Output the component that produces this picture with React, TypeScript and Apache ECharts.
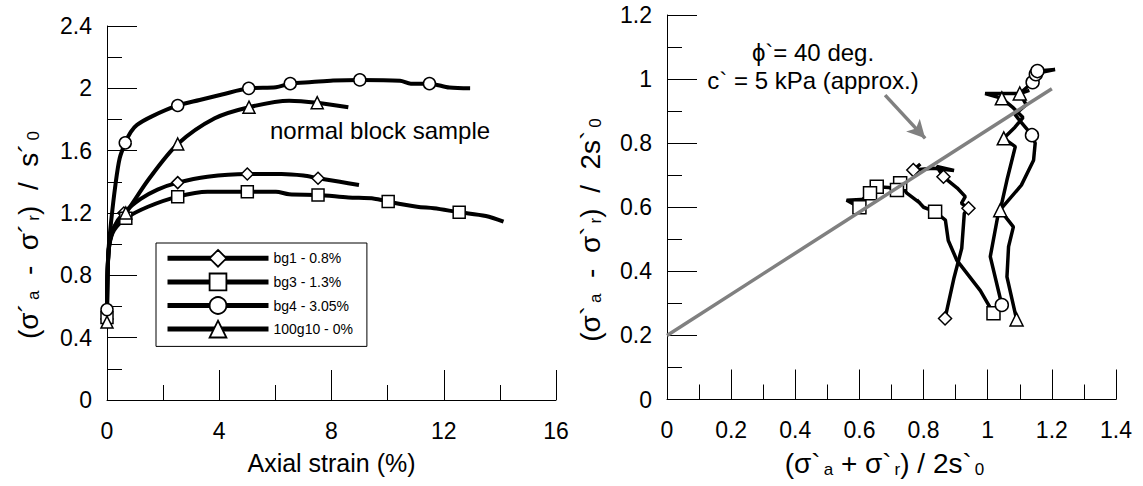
import { useEffect, useRef } from 'react';
import * as echarts from 'echarts';

const FONT = '"Liberation Sans", Arial, Helvetica, sans-serif';

// ---- Left chart: stress ratio vs axial strain ----
const bg1Strain = [0, 0.02, 0.08, 0.25, 0.6, 1.2, 1.8, 2.52, 3.58, 5.0, 6.22, 7.0, 7.52, 8.3, 8.98];
const bg1Ratio = [0.52, 0.82, 1.0, 1.11, 1.2, 1.29, 1.35, 1.395, 1.433, 1.45, 1.45, 1.44, 1.423, 1.4, 1.38];
const bg1Marks = [0, 4, 7, 9, 12];

const bg3Strain = [0, 0.02, 0.08, 0.25, 0.67, 1.46, 2.52, 3.58, 5.0, 6.02, 6.49, 7.52, 8.6, 9.53, 10.02, 11.05, 11.65, 12.55, 13.5, 14.13];
const bg3Ratio = [0.53, 0.82, 0.99, 1.09, 1.166, 1.24, 1.305, 1.337, 1.337, 1.337, 1.32, 1.316, 1.3, 1.292, 1.273, 1.24, 1.23, 1.205, 1.181, 1.145];
const bg3Marks = [0, 4, 6, 8, 11, 14, 17];

const bg4Strain = [0, 0.05, 0.15, 0.3, 0.45, 0.65, 0.85, 1.07, 1.6, 2.52, 3.3, 4.1, 5.05, 6.02, 6.53, 7.3, 8.06, 9.01, 10.44, 10.83, 11.49, 12.2, 12.94];
const bg4Ratio = [0.58, 0.95, 1.15, 1.38, 1.55, 1.65, 1.72, 1.765, 1.82, 1.89, 1.925, 1.96, 2.0, 2.007, 2.03, 2.04, 2.05, 2.054, 2.048, 2.03, 2.03, 2.005, 2.0];
const bg4Marks = [0, 5, 9, 12, 14, 17, 20];

const g10Strain = [0, 0.02, 0.1, 0.3, 0.67, 1.5, 2.52, 3.84, 5.06, 6.49, 7.49, 8.6];
const g10Ratio = [0.5, 0.82, 1.02, 1.12, 1.2, 1.42, 1.643, 1.808, 1.879, 1.921, 1.908, 1.879];
const g10Marks = [0, 4, 6, 8, 10];

// ---- Right chart: stress paths ----
const bg1P = [0.867, 0.895, 0.919, 0.927, 0.94, 0.918, 0.93, 0.905, 0.862, 0.841, 0.895, 0.83, 0.768, 0.79];
const bg1Q = [0.253, 0.38, 0.472, 0.581, 0.597, 0.612, 0.633, 0.66, 0.695, 0.727, 0.715, 0.722, 0.716, 0.735];
const bg1PMarks = [0, 4, 8, 12];

const bg3P = [1.018, 0.977, 0.904, 0.877, 0.868, 0.836, 0.8, 0.779, 0.79, 0.748, 0.727, 0.717, 0.69, 0.654, 0.633, 0.61, 0.6, 0.56, 0.62];
const bg3Q = [0.269, 0.34, 0.434, 0.496, 0.56, 0.586, 0.6, 0.623, 0.612, 0.644, 0.675, 0.654, 0.662, 0.664, 0.644, 0.625, 0.6, 0.622, 0.625];
const bg3PMarks = [0, 5, 10, 11, 13, 14, 16];

const bg4P = [1.044, 1.008, 1.034, 1.105, 1.143, 1.148, 1.138, 1.1, 1.085, 1.12, 1.1, 1.14, 1.15, 1.155, 1.21, 1.16];
const bg4Q = [0.295, 0.446, 0.586, 0.669, 0.747, 0.8, 0.825, 0.87, 0.89, 0.92, 0.955, 0.99, 1.015, 1.025, 1.03, 1.02];
const bg4PMarks = [0, 6, 11, 12, 13];

const g10P = [1.09, 1.06, 1.065, 1.08, 1.039, 1.06, 1.086, 1.05, 1.085, 1.11, 1.08, 1.044, 0.992, 1.06, 1.1, 1.13];
const g10Q = [0.25, 0.383, 0.477, 0.539, 0.591, 0.685, 0.789, 0.815, 0.85, 0.88, 0.91, 0.94, 0.955, 0.955, 0.955, 0.965];
const g10PMarks = [0, 4, 7, 11, 14];

const failureP = [0, 1.2];
const failureQ = [0.2, 0.97];
const arrowP = [0.68, 0.805];
const arrowQ = [0.95, 0.815];

const names = ['bg1 - 0.8%', 'bg3 - 1.3%', 'bg4 - 3.05%', '100g10 - 0%'];
const symbols = ['diamond', 'rect', 'circle', 'triangle'];

function build(xs: number[], ys: number[], marks: number[]) {
  return xs.map((x, i) =>
    marks.includes(i) ? { value: [x, ys[i]] } : { value: [x, ys[i]], symbol: 'none' }
  );
}

const axisCommon = (fontSize: number, margin: number) => ({
  axisLine: { show: true, onZero: false, lineStyle: { color: '#000', width: 1 } },
  axisTick: { show: true, inside: true, length: 30, lineStyle: { color: '#000', width: 1 } },
  minorTick: { show: true, splitNumber: 2, length: 15, lineStyle: { color: '#000', width: 1 } },
  splitLine: { show: false },
  minorSplitLine: { show: false },
  axisLabel: { fontSize, fontFamily: FONT, color: '#000', margin },
});

const richSub = {
  s: { fontSize: 17, fontFamily: FONT, color: '#000', lineHeight: 12, verticalAlign: 'bottom', padding: [0, 0, 0, 3] },
};

export default function App() {
  const ref = useRef<HTMLDivElement>(null);
  useEffect(() => {
    if (!ref.current) return;
    const chart = echarts.init(ref.current, null, { renderer: 'svg' });
    const leftData = [
      build(bg1Strain, bg1Ratio, bg1Marks),
      build(bg3Strain, bg3Ratio, bg3Marks),
      build(bg4Strain, bg4Ratio, bg4Marks),
      build(g10Strain, g10Ratio, g10Marks),
    ];
    const rightData = [
      build(bg1P, bg1Q, bg1PMarks),
      build(bg3P, bg3Q, bg3PMarks),
      build(bg4P, bg4Q, bg4PMarks),
      build(g10P, g10Q, g10PMarks),
    ];
    const leftSeries = names.map((n, i) => ({
      name: n,
      type: 'line',
      xAxisIndex: 0,
      yAxisIndex: 0,
      data: leftData[i],
      symbol: symbols[i],
      symbolSize: 12,
      showAllSymbol: true,
      smooth: 0.3,
      lineStyle: { color: '#000', width: 4 },
      itemStyle: { color: '#fff', borderColor: '#000', borderWidth: 1.5 },
      emphasis: { disabled: true },
      z: 2,
    }));
    const rightSeries = names.map((n, i) => ({
      name: n + ' path',
      type: 'line',
      xAxisIndex: 1,
      yAxisIndex: 1,
      data: rightData[i],
      symbol: symbols[i],
      symbolSize: 13,
      showAllSymbol: true,
      smooth: false,
      lineStyle: { color: '#000', width: 3.5 },
      itemStyle: { color: '#fff', borderColor: '#000', borderWidth: 1.5 },
      emphasis: { disabled: true },
      z: 2,
    }));
    const option: any = {
      animation: false,
      backgroundColor: '#fff',
      grid: [
        { left: 107, right: 587, top: 26, bottom: 86 },
        { left: 667, right: 27, top: 15, bottom: 86.5 },
      ],
      xAxis: [
        {
          gridIndex: 0, type: 'value', min: 0, max: 16, interval: 4,
          name: 'Axial strain (%)', nameLocation: 'middle', nameGap: 50,
          nameTextStyle: { fontSize: 25, fontFamily: FONT, color: '#000' },
          ...axisCommon(23, 19),
        },
        {
          gridIndex: 1, type: 'value', min: 0, max: 1.4, interval: 0.2,
          name: '(σ`{s|a} + σ`{s|r}) / 2s`{s|0}', nameLocation: 'middle', nameGap: 50,
          nameTextStyle: { fontSize: 28, fontFamily: FONT, color: '#000', rich: richSub, padding: [0, 14, 0, 0] },
          ...axisCommon(23, 19),
        },
      ],
      yAxis: [
        {
          gridIndex: 0, type: 'value', min: 0, max: 2.4, interval: 0.4,
          ...axisCommon(23, 15),
        },
        {
          gridIndex: 1, type: 'value', min: 0, max: 1.2, interval: 0.2,
          ...axisCommon(23, 15),
        },
      ],
      legend: {
        data: names,
        orient: 'vertical',
        left: 156,
        top: 243,
        itemWidth: 101,
        itemHeight: 21,
        itemGap: 5,
        padding: [6, 14, 8, 9],
        borderColor: '#000',
        borderWidth: 1,
        backgroundColor: '#fff',
        selectedMode: false,
        lineStyle: { width: 5, color: '#000' },
        itemStyle: { color: '#fff', borderColor: '#000', borderWidth: 1.8 },
        textStyle: { fontSize: 14, fontFamily: FONT, color: '#000' },
      },
      series: [
        ...leftSeries,
        ...rightSeries,
        {
          name: 'failure line',
          type: 'line',
          xAxisIndex: 1,
          yAxisIndex: 1,
          data: failureP.map((p, i) => [p, failureQ[i]]),
          symbol: 'none',
          lineStyle: { color: '#808080', width: 3.5 },
          emphasis: { disabled: true },
          z: 5,
          markLine: {
            silent: true,
            symbol: ['none', 'arrow'],
            symbolSize: [14, 18],
            label: { show: false },
            lineStyle: { color: '#808080', width: 3.5, type: 'solid' },
            data: [[{ coord: [arrowP[0], arrowQ[0]] }, { coord: [arrowP[1], arrowQ[1]] }]],
          },
        },
      ],
      graphic: [
        {
          type: 'text', x: 28, y: 235, rotation: Math.PI / 2,
          style: {
            text: '(σ´{s|a}  -  σ´{s|r})  /  s´{s|0}',
            fontSize: 28, fontFamily: FONT, fill: '#000', align: 'center', verticalAlign: 'middle',
            rich: richSub,
          },
        },
        {
          type: 'text', x: 590, y: 230, rotation: Math.PI / 2,
          style: {
            text: '(σ`{s|a}  -  σ`{s|r})  /  2s`{s|0}',
            fontSize: 28, fontFamily: FONT, fill: '#000', align: 'center', verticalAlign: 'middle',
            rich: richSub,
          },
        },
        {
          type: 'text', left: 270, top: 118,
          style: { text: 'normal block sample', fontSize: 24, fontFamily: FONT, fill: '#000' },
        },
        {
          type: 'text', x: 813, y: 52,
          style: { text: 'ϕ`= 40 deg.', fontSize: 24, fontFamily: FONT, fill: '#000', align: 'center', verticalAlign: 'middle' },
        },
        {
          type: 'text', x: 813, y: 80,
          style: { text: 'c` = 5 kPa (approx.)', fontSize: 24, fontFamily: FONT, fill: '#000', align: 'center', verticalAlign: 'middle' },
        },
      ],
    };
    chart.setOption(option);
    return () => chart.dispose();
  }, []);
  return (
    <div
      ref={ref}
      style={{ position: 'fixed', left: 0, top: 0, width: 1143, height: 486, background: '#fff' }}
    />
  );
}
